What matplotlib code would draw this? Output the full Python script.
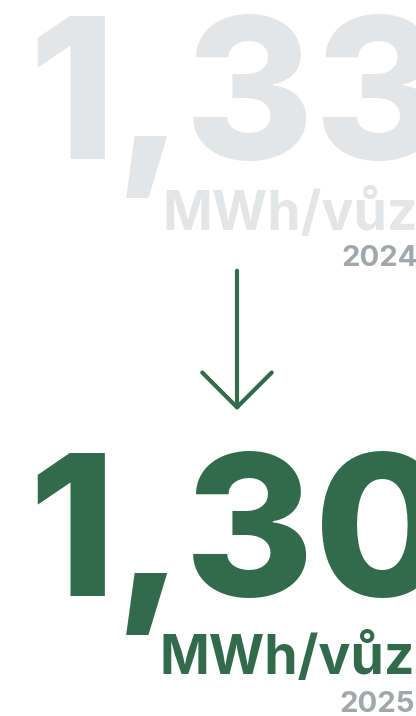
import matplotlib
matplotlib.use("Agg")
from matplotlib import pyplot as plt

# values shown on the card
values = ["1,33", "1,30"]
units = ["MWh/vůz", "MWh/vůz"]
years = ["2024", "2025"]

light_gray = "#e4e5e6"
dark_gray = "#a2a7a9"
green = "#326b4c"

plt.rcParams["font.family"] = ["Inter", "DejaVu Sans"]

fig = plt.figure(figsize=(4.16, 7.16), dpi=100)
ax = fig.add_axes([0, 0, 1, 1])
ax.set_xlim(0, 416)
ax.set_ylim(716, 0)
ax.axis("off")

# old value (2024)
ax.text(28, 159, values[0], fontsize=142, fontweight=800, color=light_gray,
        ha="left", va="baseline")
ax.text(418, 230, units[0], fontsize=38.5, fontweight="bold", color=light_gray,
        ha="right", va="baseline")
ax.text(418, 266, years[0], fontsize=21, fontweight="bold", color=dark_gray,
        ha="right", va="baseline")

# arrow
ax.annotate("", xy=(237, 413), xytext=(237, 268),
            arrowprops=dict(arrowstyle="->,head_length=2.5,head_width=2.5",
                            color=green, lw=3))

# new value (2025)
ax.text(28, 596, values[1], fontsize=142, fontweight=800, color=green,
        ha="left", va="baseline")
ax.text(415, 674, units[1], fontsize=38.5, fontweight="bold", color=green,
        ha="right", va="baseline")
ax.text(415, 712, years[1], fontsize=21, fontweight="bold", color=dark_gray,
        ha="right", va="baseline")

plt.savefig("out.png", dpi=100)
